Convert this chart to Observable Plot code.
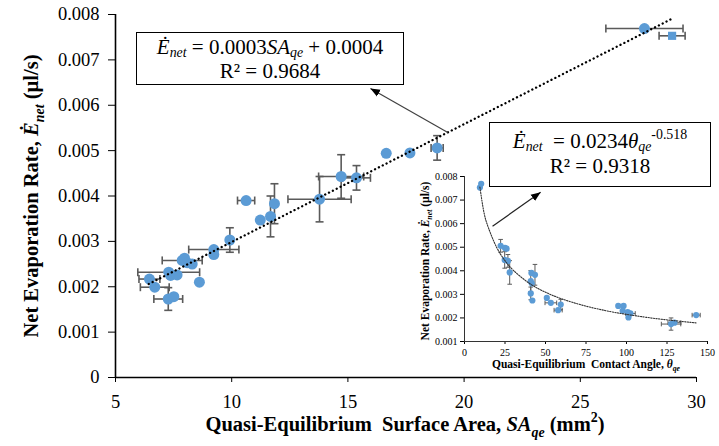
<!DOCTYPE html>
<html>
<head>
<meta charset="utf-8">
<script src="https://cdn.jsdelivr.net/npm/d3@7"></script>
<script src="https://cdn.jsdelivr.net/npm/@observablehq/plot@0.6"></script>
<style>
  html, body { margin: 0; padding: 0; background: #fff; }
  #wrap { position: relative; width: 719px; height: 446px; overflow: hidden;
          font-family: "Liberation Serif", "Times New Roman", serif; color: #000; }
  #wrap svg { position: absolute; left: 0; top: 0; }
  #wrap svg text { font-family: "Liberation Serif", "Times New Roman", serif; }
  .box { position: absolute; border: 1.5px solid #000; background: #fff; box-sizing: border-box;
         text-align: center; font-size: 21px; white-space: nowrap; }
  .box sub, .box sup { font-size: 0.66em; line-height: 0; }
  .box sub { vertical-align: -0.22em; }
  .box sup { vertical-align: 0.62em; }
</style>
</head>
<body>
<div id="wrap"></div>
<script>
// ---------- main chart data (Surface area in mm², evaporation rate in µl/s) ----------
const saValues   = [6.46, 6.69, 7.27, 7.51, 7.29, 7.37, 7.65, 7.87, 7.97, 8.08, 8.30, 8.61, 9.23, 9.23, 9.92, 10.62, 11.23, 11.67, 11.84, 13.78, 14.71, 15.37, 16.65, 17.67, 18.84, 27.76, 28.95];
const rateValues = [0.00217, 0.00199, 0.00173, 0.00178, 0.00232, 0.00225, 0.00226, 0.00258, 0.00263, 0.00253, 0.00250, 0.00210, 0.00282, 0.00271, 0.00303, 0.00390, 0.00347, 0.00355, 0.00383, 0.00393, 0.00443, 0.00440, 0.00494, 0.00495, 0.00506, 0.00769, 0.00753];
const saErrors   = [0.45, 0.62, 0.62, 0, 1.33, 0, 0, 0.86, 0, 0, 0, 0, 1.08, 0, 0, 0.37, 0, 0, 0, 1.36, 0.97, 0.6, 0, 0, 0.26, 1.66, 0.56];
const rateErrors = [0, 0, 0.00025, 0, 0, 0, 0, 0, 0, 0, 0, 0, 0, 0, 0.00027, 0, 0, 0.00045, 0.00044, 0.0005, 0.00048, 0.00027, 0, 0, 0.00027, 0, 0];
const markerShapes = ["circle","circle","circle","circle","circle","circle","circle","circle","circle","circle","circle","circle","circle","circle","circle","circle","circle","circle","circle","circle","circle","circle","circle","circle","circle","circle","square"];
// dotted linear trend line end points
const trendSA   = [6.43, 28.92];
const trendRate = [0.00206, 0.00790];
// callout arrow (trend line -> equation box)
const arrowSA   = [19.3, 15.97];
const arrowRate = [0.0054, 0.00637];

const xTicks = [5, 10, 15, 20, 25, 30];
const xTickLabels = ["5", "10", "15", "20", "25", "30"];
const yTicks = [0, 0.001, 0.002, 0.003, 0.004, 0.005, 0.006, 0.007, 0.008];
const yTickLabels = ["0", "0.001", "0.002", "0.003", "0.004", "0.005", "0.006", "0.007", "0.008"];

// ---------- inset data (contact angle θ, evaporation rate) ----------
const angleValues = [9.5, 10.3, 22.3, 25.0, 26.0, 24.8, 26.8, 27.9, 41.3, 43.5, 40.9, 41.5, 40.9, 41.9, 50.8, 53.3, 57.8, 59.4, 94.9, 98.2, 97.6, 100.7, 101.2, 102.4, 127.5, 129.6, 143.0];
const insetRates  = [0.00753, 0.00769, 0.00506, 0.00497, 0.00494, 0.00446, 0.00442, 0.00393, 0.00391, 0.00383, 0.00356, 0.00347, 0.00304, 0.00274, 0.00285, 0.00264, 0.00233, 0.00257, 0.00251, 0.00251, 0.00230, 0.00225, 0.00202, 0.00219, 0.00174, 0.00180, 0.00212];
const angleErrors = [0, 0, 0, 0, 0, 0, 0, 0, 0, 0, 0, 0, 0, 0, 0, 3.6, 2.5, 0, 0, 0, 0, 0, 0, 3.0, 6.0, 4.0, 2.5];
const insetRateErrors = [0, 0, 0.00027, 0, 0, 0.00035, 0.00027, 0.0005, 0, 0.00044, 0.00045, 0, 0.00027, 0, 0, 0, 0, 0.00022, 0, 0, 0, 0, 0, 0, 0.00026, 0, 0];
// dotted power trend curve
const curveAngles = [9.5, 12, 15, 20, 25, 30, 40, 50, 60, 75, 90, 100, 115, 130, 143];
const curveRates  = [0.00755, 0.00648, 0.00578, 0.00497, 0.00443, 0.00403, 0.00347, 0.00309, 0.00281, 0.00250, 0.00227, 0.00215, 0.00200, 0.00188, 0.00179];
const insetArrowAngles = [17.3, 47.0];
const insetArrowRates  = [0.00589, 0.00733];
const insetXTicks = [0, 25, 50, 75, 100, 125, 150];
const insetYTicks = [0.001, 0.002, 0.003, 0.004, 0.005, 0.006, 0.007, 0.008];
const insetYTickLabels = ["0.001", "0.002", "0.003", "0.004", "0.005", "0.006", "0.007", "0.008"];

// ---------- build tables ----------
const mainData = saValues.map((x, i) => ({x, y: rateValues[i], ex: saErrors[i], ey: rateErrors[i], shape: markerShapes[i]}));
const insetData = angleValues.map((x, i) => ({x, y: insetRates[i], ex: angleErrors[i], ey: insetRateErrors[i]}));
const trend = trendSA.map((x, i) => ({x, y: trendRate[i]}));
const curve = curveAngles.map((x, i) => ({x, y: curveRates[i]}));

const BLUE = "#5b9bd5";
const ERR = "#5a5a5a";

// custom cap symbols for error bars
const vCap = { draw(ctx, size) { const r = Math.sqrt(size / Math.PI); ctx.moveTo(0, -r); ctx.lineTo(0, r); } };
const hCap = { draw(ctx, size) { const r = Math.sqrt(size / Math.PI); ctx.moveTo(-r, 0); ctx.lineTo(r, 0); } };

function errorMarks(data, capR, width) {
  const hx = data.filter(d => d.ex > 0);
  const vy = data.filter(d => d.ey > 0);
  const hCaps = hx.flatMap(d => [{x: d.x - d.ex, y: d.y}, {x: d.x + d.ex, y: d.y}]);
  const vCaps = vy.flatMap(d => [{x: d.x, y: d.y - d.ey}, {x: d.x, y: d.y + d.ey}]);
  return [
    Plot.link(hx, {x1: d => d.x - d.ex, x2: d => d.x + d.ex, y1: "y", y2: "y", stroke: ERR, strokeWidth: width}),
    Plot.link(vy, {x1: "x", x2: "x", y1: d => d.y - d.ey, y2: d => d.y + d.ey, stroke: ERR, strokeWidth: width}),
    Plot.dot(hCaps, {x: "x", y: "y", symbol: vCap, r: capR, fill: "none", stroke: ERR, strokeWidth: width}),
    Plot.dot(vCaps, {x: "x", y: "y", symbol: hCap, r: capR, fill: "none", stroke: ERR, strokeWidth: width})
  ];
}

const wrap = document.getElementById("wrap");

const main = Plot.plot({
  width: 719, height: 446,
  marginLeft: 115, marginRight: 23, marginTop: 14, marginBottom: 69,
  style: {fontFamily: "'Liberation Serif', 'Times New Roman', serif", fontSize: "18.5px", color: "#000", background: "transparent", overflow: "visible"},
  x: {domain: [5, 30], ticks: xTicks, tickSize: 5, tickPadding: 12, tickFormat: d => xTickLabels[xTicks.indexOf(d)], label: null},
  y: {domain: [0, 0.008], ticks: yTicks, tickSize: 7, tickPadding: 9, tickFormat: d => yTickLabels[yTicks.indexOf(d)], label: null},
  marks: [
    ...errorMarks(mainData, 4, 1.6),
    Plot.dot(mainData.filter(d => d.shape === "circle"), {x: "x", y: "y", r: 5.5, fill: BLUE, stroke: "none"}),
    Plot.dot(mainData.filter(d => d.shape === "square"), {x: "x", y: "y", r: 4.6, symbol: "square", fill: BLUE, stroke: "none"}),
    Plot.line(trend, {x: "x", y: "y", stroke: "#000", strokeWidth: 2.3, strokeDasharray: "0.1,4.2", strokeLinecap: "round"}),
    Plot.link([0], {x1: () => arrowSA[0], y1: () => arrowRate[0], x2: () => arrowSA[1], y2: () => arrowRate[1], stroke: "#404040", strokeWidth: 1.2, markerEnd: "arrow"}),
    Plot.ruleX([5], {stroke: "#000", strokeWidth: 1.6}),
    Plot.ruleY([0], {stroke: "#000", strokeWidth: 1.6})
  ]
});
wrap.appendChild(main);

const inset = Plot.plot({
  width: 300, height: 215,
  marginLeft: 49, marginRight: 8, marginTop: 16, marginBottom: 34,
  style: {fontFamily: "'Liberation Serif', 'Times New Roman', serif", fontSize: "10px", color: "#000", background: "transparent", overflow: "visible"},
  x: {domain: [0, 150], ticks: insetXTicks, tickSize: 3, tickPadding: 4, label: null},
  y: {domain: [0.001, 0.008], ticks: insetYTicks, tickSize: 4, tickPadding: 3, tickFormat: d => insetYTickLabels[insetYTicks.indexOf(d)], label: null},
  marks: [
    ...errorMarks(insetData, 2.3, 1),
    Plot.dot(insetData, {x: "x", y: "y", r: 3.1, fill: BLUE, stroke: "none"}),
    Plot.line(curve, {x: "x", y: "y", curve: "natural", stroke: "#333", strokeWidth: 1.1, strokeDasharray: "1.3,1.3"}),
    Plot.link([0], {x1: () => insetArrowAngles[0], y1: () => insetArrowRates[0], x2: () => insetArrowAngles[1], y2: () => insetArrowRates[1], stroke: "#222", strokeWidth: 1.2, markerEnd: "arrow"}),
    Plot.ruleX([0], {stroke: "#333", strokeWidth: 1}),
    Plot.ruleY([0.001], {stroke: "#333", strokeWidth: 1})
  ]
});
inset.style.position = "absolute";
inset.style.left = "415px";
inset.style.top = "160px";
wrap.appendChild(inset);

// filled arrowheads
for (const svg of [main, inset]) {
  d3.select(svg).selectAll("marker")
    .attr("viewBox", "-10 -5 10 10")
    .attr("markerWidth", 8).attr("markerHeight", 8)
    .each(function() {
      d3.select(this).selectAll("path").attr("d", "M-10,-4L0,0L-10,4Z").attr("fill", "#000").attr("stroke", "none");
    });
}

// axis titles (with italic / subscript parts)
function title(svg, x, y, rotate, size, parts) {
  const t = d3.select(svg).append("text")
    .attr("transform", `translate(${x},${y})` + (rotate ? " rotate(-90)" : ""))
    .attr("text-anchor", "middle").attr("font-weight", "bold").attr("font-size", size)
    .attr("font-family", "'Liberation Serif', 'Times New Roman', serif").attr("fill", "#000");
  let shift = 0;
  for (const p of parts) {
    const s = t.append("tspan").text(p.t);
    const fs = p.sub || p.sup ? size * 0.68 : size;
    if (p.sub || p.sup) s.attr("font-size", fs);
    if (p.i) s.attr("font-style", "italic");
    const target = p.sub ? size * 0.28 : p.sup ? -size * 0.45 : 0;
    if (target !== shift) { s.attr("dy", target - shift); shift = target; }
  }
}
title(main, 38, 196, true, 20.5, [
  {t: "Net Evaporation Rate, "}, {t: "Ė", i: true}, {t: "net", i: true, sub: true}, {t: " (µl/s)"}
]);
title(main, 405, 431, false, 20.5, [
  {t: "Quasi-Equilibrium\u00a0 Surface Area, "}, {t: "SA", i: true}, {t: "qe", i: true, sub: true}, {t: " (mm"}, {t: "2", sup: true}, {t: ")"}
]);
title(main, 429, 261, true, 11.5, [
  {t: "Net Evaporation Rate, "}, {t: "Ė", i: true}, {t: "net", i: true, sub: true}, {t: " (µl/s)"}
]);
title(main, 586, 368, false, 11.5, [
  {t: "Quasi-Equilibrium\u00a0 Contact Angle, "}, {t: "θ", i: true}, {t: "qe", i: true, sub: true}
]);

// equation boxes
const box1 = document.createElement("div");
box1.className = "box";
Object.assign(box1.style, {left: "136px", top: "32px", width: "268px", height: "53px", lineHeight: "24px", paddingTop: "2px"});
box1.innerHTML = '<i>Ė</i><sub><i>net</i></sub> = 0.0003<i>SA</i><sub><i>qe</i></sub> + 0.0004<br>R² = 0.9684';
wrap.appendChild(box1);

const box2 = document.createElement("div");
box2.className = "box";
Object.assign(box2.style, {left: "489px", top: "122px", width: "222px", height: "65px", lineHeight: "25px", paddingTop: "6px"});
box2.innerHTML = '<i>Ė</i><sub><i>net</i></sub>&nbsp; = 0.0234<i>θ</i><sub><i>qe</i></sub><sup>-0.518</sup><br>R² = 0.9318';
wrap.appendChild(box2);
</script>
</body>
</html>
